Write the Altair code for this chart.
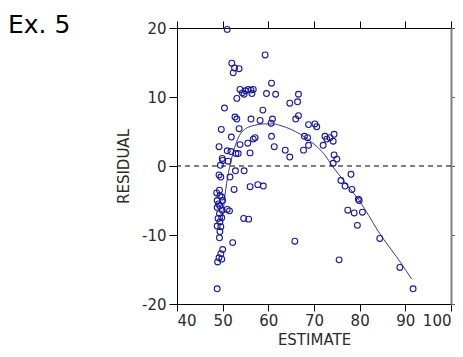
import altair as alt
import pandas as pd

# Scatter points (ESTIMATE, RESIDUAL)
est = [51.0, 59.3, 52.0, 52.6, 53.6, 52.3, 60.7, 59.6, 61.6,
       53.8, 54.3, 55.0, 55.6, 56.2, 56.7, 56.4, 54.7, 53.1,
       66.6, 66.4, 64.7, 50.4, 58.8,
       52.7, 53.1, 56.2, 58.2, 60.9, 60.6, 66.6, 66.0, 68.8, 70.2, 70.6,
       49.7, 53.6, 51.9, 53.8, 55.5, 56.7, 57.1, 60.7, 67.9, 68.6,
       72.4, 72.8, 73.5, 74.4, 74.2, 72.0,
       49.2, 51.0, 51.8, 52.9, 53.4, 56.0,
       61.3, 63.7, 64.7, 67.7, 68.8,
       74.4, 75.0, 74.2,
       49.9, 50.0, 49.5, 51.2,
       52.8, 54.7, 49.2, 49.6, 51.6,
       52.5, 56.0, 57.7, 58.9,
       78.1, 75.9, 76.8, 78.3, 79.7, 79.9,
       77.4, 78.8, 80.6, 79.5, 84.4, 75.5, 88.8, 91.7, 65.8,
       49.3, 48.7, 49.4, 48.8, 50.0, 49.4, 48.8, 51.0, 51.5, 49.3,
       49.8, 49.0, 49.4, 48.8, 49.6, 49.4, 49.3, 52.2, 50.0, 49.6,
       49.2, 49.8, 48.9, 48.8, 54.6, 55.7, 49.8, 49.1, 49.9]
res = [19.8, 16.1, 14.9, 14.2, 14.1, 13.5, 12.0, 10.5, 10.4,
       11.1, 10.6, 10.9, 11.1, 11.0, 11.1, 10.5, 10.4, 9.8,
       10.4, 9.3, 9.1, 8.4, 8.1,
       7.1, 6.8, 6.8, 6.6, 6.8, 6.2, 7.3, 6.8, 6.0, 6.1, 5.7,
       5.3, 5.4, 4.2, 3.1, 3.3, 3.9, 4.1, 4.3, 4.3, 4.1,
       4.3, 3.9, 4.1, 4.6, 3.6, 3.0,
       2.8, 2.2, 2.1, 1.8, 1.8, 1.9,
       2.8, 2.3, 1.3, 2.3, 3.0,
       1.6, 1.0, 0.4,
       1.1, 0.8, 0.1, 0.7,
       -0.7, -0.7, -1.3, -1.6, -1.6,
       -3.4, -3.0, -2.7, -2.9,
       -1.2, -2.1, -2.9, -3.4, -4.8, -5.0,
       -6.4, -6.8, -6.7, -8.6, -10.5, -13.6, -14.7, -17.8, -10.9,
       -3.5, -3.9, -4.3, -5.0, -5.0, -5.8, -6.0, -6.3, -6.5, -6.9,
       -7.5, -7.6, -8.1, -8.7, -8.8, -9.5, -10.4, -11.1, -12.1, -12.7,
       -13.3, -13.5, -13.9, -17.8, -7.6, -7.7, -4.5, -5.5, -6.4]

# Smoothed fit curve
curve_x = [49.9, 50.5, 51.5, 52.5, 53.5, 55.0, 57.0, 59.0, 61.0, 63.0, 65.0,
           67.0, 69.0, 71.0, 72.5, 74.0, 76.0, 78.0, 80.0, 82.0, 84.0, 86.0,
           88.0, 90.0, 91.4]
curve_y = [-8.0, -4.3, -0.2, 2.4, 4.2, 5.4, 5.9, 6.1, 6.1, 5.8, 5.3,
           4.6, 3.7, 2.6, 1.5, 0.0, -1.7, -3.4, -5.1, -7.2, -9.4, -11.3,
           -13.1, -15.0, -16.4]

title_text = ["Ex. 5"]
x_ticks = [40, 50, 60, 70, 80, 90, 100]
y_ticks = [-20, -10, 0, 10, 20]

pts = pd.DataFrame({"ESTIMATE": est, "RESIDUAL": res})
crv = pd.DataFrame({"ESTIMATE": curve_x, "RESIDUAL": curve_y})
zero = pd.DataFrame({"y": [0]})
ttl = pd.DataFrame({"t": title_text})

FONT = "DejaVu Sans"
xscale = alt.Scale(domain=[40, 100], nice=False, zero=False)
yscale = alt.Scale(domain=[-20, 20], nice=False, zero=False)

common = dict(grid=False, domainColor="black", tickColor="black",
              labelFont=FONT, titleFont=FONT, labelFontSize=15,
              titleFontSize=15, titleFontWeight="normal",
              labelColor="#2a2a2a", titleColor="#2a2a2a",
              labelExpr="toString(datum.value)")

x_bottom = alt.Axis(title="ESTIMATE", values=x_ticks, tickSize=7,
                    labelPadding=2, titlePadding=4, **common)
y_left = alt.Axis(title="RESIDUAL", values=y_ticks, tickSize=8,
                  labelPadding=3, titlePadding=10, **common)
x_top = alt.Axis(orient="top", title="", values=x_ticks, labels=False,
                 tickSize=7, grid=False, domainColor="black", tickColor="black")
y_right = alt.Axis(orient="right", title="", values=y_ticks, labels=False,
                   tickSize=8, grid=False, domainColor="#808080",
                   domainWidth=2, tickColor="#606060")

points = alt.Chart(pts).mark_point(
    shape="circle", filled=False, size=34, strokeWidth=1.1,
    color="#1a1a9e", opacity=1
).encode(
    x=alt.X("ESTIMATE:Q", scale=xscale, axis=x_bottom),
    y=alt.Y("RESIDUAL:Q", scale=yscale, axis=y_left),
)

curve = alt.Chart(crv).mark_line(
    color="#3a3a8e", strokeWidth=1, interpolate="monotone"
).encode(
    x=alt.X("ESTIMATE:Q", scale=xscale, axis=x_top),
    y=alt.Y("RESIDUAL:Q", scale=yscale, axis=y_right),
)

rule = alt.Chart(zero).mark_rule(
    color="black", strokeDash=[5, 4], strokeWidth=1
).encode(y=alt.Y("y:Q", scale=yscale, axis=None))

title = alt.Chart(ttl).mark_text(
    align="left", baseline="alphabetic", fontSize=25, font=FONT, color="black"
).encode(x=alt.value(-169), y=alt.value(5), text="t:N")

chart = alt.layer(rule, curve, points, title).resolve_axis(
    x="independent", y="independent"
).properties(
    width=274, height=276,
    autosize=alt.AutoSizeParams(type="none"),
    padding={"left": 169, "top": 20, "right": 4, "bottom": 45},
).configure_view(strokeWidth=0).configure(background="white")

chart.save("out.html", embed_options={"renderer": "svg", "actions": False})
